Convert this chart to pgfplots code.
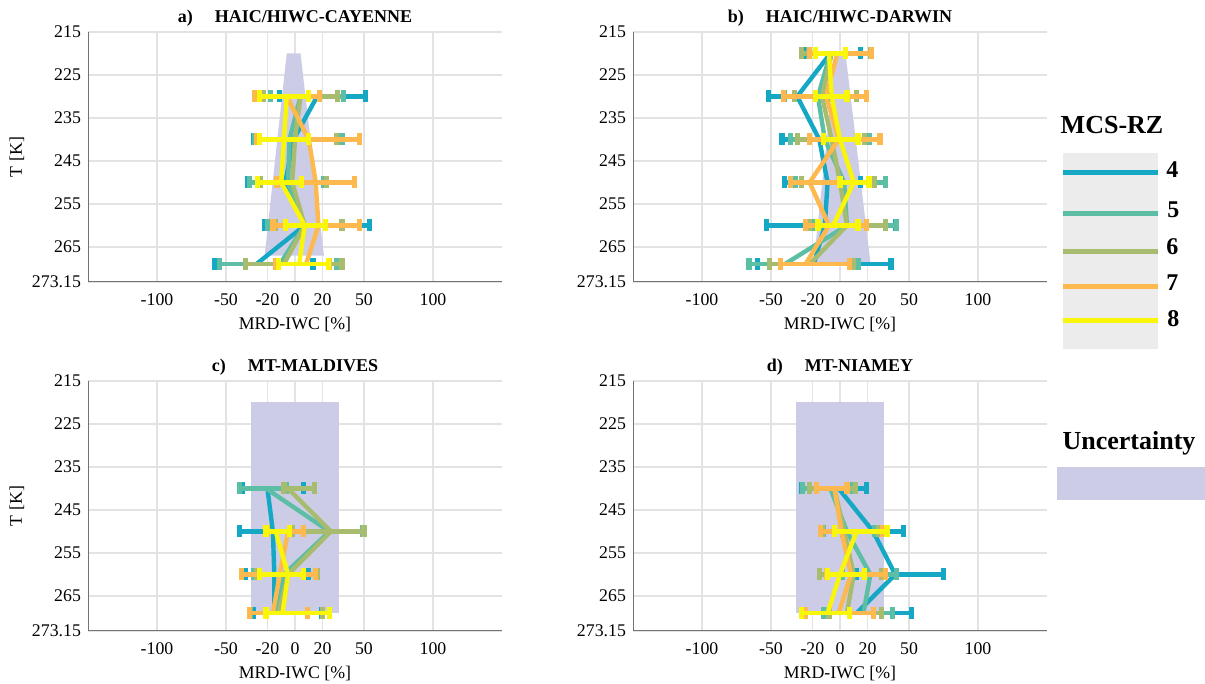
\documentclass[border=0pt]{standalone}
\usepackage{fontspec}
\setmainfont{Liberation Serif}
\usepackage{pgfplots}
\pgfplotsset{compat=1.18}

\definecolor{c4}{RGB}{20,168,196}
\definecolor{c5}{RGB}{92,190,164}
\definecolor{c6}{RGB}{168,188,112}
\definecolor{c7}{RGB}{253,184,78}
\definecolor{c8}{RGB}{250,246,10}
\definecolor{unc}{RGB}{204,204,230}
\definecolor{axgray}{RGB}{115,115,115}

\pgfplotsset{
  panel/.style={
    scale only axis, width=207pt, height=125pt,
    xmin=-150, xmax=150, ymin=215, ymax=273.15, y dir=reverse,
    xtick={-100,-50,-20,0,20,50,100},
    xticklabels={-100,-50,-20,0,20,50,100},
    ytick={215,225,235,245,255,265,273.15},
    yticklabels={215,225,235,245,255,265,273.15},
    grid=major, grid style={gray!22, line width=0.6pt},
    axis line style={draw=none}, major tick length=0pt,
    tick label style={font=\fontsize{8.9}{10}\selectfont},
    xticklabel style={yshift=-2.5pt},
    label style={font=\fontsize{8.9}{10}\selectfont},
    xlabel={MRD-IWC [\%]},
    xlabel style={yshift=1.5pt},
    every axis y label/.style={at={(axis description cs:0,0.5)},
      xshift=-35.5pt, rotate=90, anchor=center,
      font=\fontsize{8.9}{10}\selectfont},
    every axis title/.style={at={(axis description cs:0.5,1)},
      anchor=base, yshift=4.5pt,
      font=\bfseries\fontsize{9}{11}\selectfont},
  },
  ser/.style={color=#1, line width=2.2pt,
    error bars/.cd, x dir=both, x explicit,
    error bar style={line width=2.2pt, #1},
    error mark options={rotate=90, line width=2.6pt, mark size=3pt, #1}},
  table/eb/.style={x=c, y=T, x error minus=em, x error plus=ep},
}

\begin{document}
\begin{tikzpicture}
\path[use as bounding box] (0,0) rectangle (602.5pt,342pt);

% a) HAIC/HIWC-CAYENNE
\begin{axis}[panel, at={(44pt,201pt)}, anchor=south west,
  ylabel={T [K]}, title={a)\hspace{11pt}HAIC/HIWC-CAYENNE}]
\addplot[fill=unc, draw=none] coordinates {(-6,220) (4,220) (21,267) (-22,267)} -- cycle;
\draw[axgray, line width=0.8pt] (axis cs:-150,215) -- (axis cs:-150,273.15) -- (axis cs:150,273.15);
\addplot[ser=c4] table[eb] {
T c em ep
230 16 27 35
240 -1 29 31
250 -7 27 30
260 7 29 47
269 -28 30 41
};
\addplot[ser=c5] table[eb] {
T c em ep
230 4 22 31
240 -4 25 38
250 -5 28 26
260 7 27 40
269 -11 44 41
};
\addplot[ser=c6] table[eb] {
T c em ep
230 4 27 27
240 0 27 30
250 -2 23 25
260 7 21 27
269 -8 28 42
};
\addplot[ser=c7] table[eb] {
T c em ep
230 -6 23 24
240 10 38 37
250 15 28 28
260 17 33 30
269 8 22 17
};
\addplot[ser=c8] table[eb] {
T c em ep
230 -6 20 16
240 -8 18 18
250 -10 17 15
260 7 14 15
269 3 15 21
};
\end{axis}

% b) HAIC/HIWC-DARWIN
\begin{axis}[panel, at={(316.5pt,201pt)}, anchor=south west,
  title={b)\hspace{11pt}HAIC/HIWC-DARWIN}]
\addplot[fill=unc, draw=none] coordinates {(-3,220) (4,220) (22,268.5) (-19,268.5)} -- cycle;
\draw[axgray, line width=0.8pt] (axis cs:-150,215) -- (axis cs:-150,273.15) -- (axis cs:150,273.15);
\addplot[ser=c4] table[eb] {
T c em ep
220 -7 18 22
230 -31 21 23
240 -15 27 35
250 -9 31 24
260 -11 42 51
269 -19 41 56
};
\addplot[ser=c5] table[eb] {
T c em ep
220 -7 16 30
230 -16 24 28
240 -11 25 32
250 3 35 30
260 5 25 36
269 -40 26 53
};
\addplot[ser=c6] table[eb] {
T c em ep
220 -6 22 28
230 -13 20 25
240 -6 25 24
250 0 28 25
260 5 27 28
269 -22 29 32
};
\addplot[ser=c7] table[eb] {
T c em ep
220 -2 20 25
230 -10 31 29
240 -1 21 30
250 -22 14 22
260 -8 17 27
269 -25 18 32
};
\addplot[ser=c8] table[eb] {
T c em ep
220 -8 10 12
230 -6 12 11
240 0 12 13
250 10 10 11
260 -5 11 18
};
\end{axis}

% c) MT-MALDIVES
\begin{axis}[panel, at={(44pt,26.5pt)}, anchor=south west,
  ylabel={T [K]}, title={c)\hspace{11pt}MT-MALDIVES}]
\addplot[fill=unc, draw=none] coordinates {(-32,220) (32,220) (32,269) (-32,269)} -- cycle;
\draw[axgray, line width=0.8pt] (axis cs:-150,215) -- (axis cs:-150,273.15) -- (axis cs:150,273.15);
\addplot[ser=c4] table[eb] {
T c em ep
240 -20 18 26
250 -16 24 12
260 -15 21 25
269 -15 15 34
};
\addplot[ser=c5] table[eb] {
T c em ep
240 -21 19 15
250 25 27 24
260 -8 22 23
269 -13 19 38
};
\addplot[ser=c6] table[eb] {
T c em ep
240 -5 3 19
250 26 28 24
260 -5 23 21
269 -12 21 32
};
\addplot[ser=c7] table[eb] {
T c em ep
250 -5 15 11
260 -11 28 26
269 -16 17 25
};
\addplot[ser=c8] table[eb] {
T c em ep
250 -14 7 10
260 -5 21 11
269 -9 12 34
};
\end{axis}

% d) MT-NIAMEY
\begin{axis}[panel, at={(316.5pt,26.5pt)}, anchor=south west,
  title={d)\hspace{11pt}MT-NIAMEY}]
\addplot[fill=unc, draw=none] coordinates {(-32,220) (32,220) (32,269) (-32,269)} -- cycle;
\draw[axgray, line width=0.8pt] (axis cs:-150,215) -- (axis cs:-150,273.15) -- (axis cs:150,273.15);
\addplot[ser=c4] table[eb] {
T c em ep
240 -1 27 20
250 24 22 22
260 40 28 35
269 12 24 40
};
\addplot[ser=c5] table[eb] {
T c em ep
240 -7 20 15
250 5 17 20
260 22 20 19
269 17 29 21
};
\addplot[ser=c6] table[eb] {
T c em ep
240 -4 18 15
250 3 16 25
260 10 25 20
269 5 13 25
};
\addplot[ser=c7] table[eb] {
T c em ep
240 -4 13 9
250 1 15 30
260 8 18 25
269 -1 24 25
};
\addplot[ser=c8] table[eb] {
T c em ep
250 12 16 22
260 0 9 18
269 -9 19 16
};
\end{axis}

% legend
\node[font=\bfseries\fontsize{13}{15}\selectfont] at (556pt,279.5pt) {MCS-RZ};
\fill[gray!15] (531.5pt,167.5pt) rectangle (579pt,265.5pt);
\draw[c4, line width=2.5pt] (531.5pt,255.5pt) -- (579pt,255.5pt);
\draw[c5, line width=2.5pt] (531.5pt,235pt) -- (579pt,235pt);
\draw[c6, line width=2.5pt] (531.5pt,216pt) -- (579pt,216pt);
\draw[c7, line width=2.5pt] (531.5pt,198.5pt) -- (579pt,198.5pt);
\draw[c8, line width=2.5pt] (531.5pt,181.5pt) -- (579pt,181.5pt);
\begin{scope}[every node/.style={font=\bfseries\fontsize{12}{14}\selectfont, anchor=west, inner sep=0pt}]
\node at (583pt,257pt) {4};
\node at (583.5pt,237pt) {5};
\node at (583pt,218.5pt) {6};
\node at (583pt,200.5pt) {7};
\node at (583.5pt,182.5pt) {8};
\end{scope}
\node[font=\bfseries\fontsize{13}{15}\selectfont] at (564.5pt,120.5pt) {Uncertainty};
\fill[unc] (528.5pt,92pt) rectangle (602.5pt,108.5pt);
\end{tikzpicture}
\end{document}
